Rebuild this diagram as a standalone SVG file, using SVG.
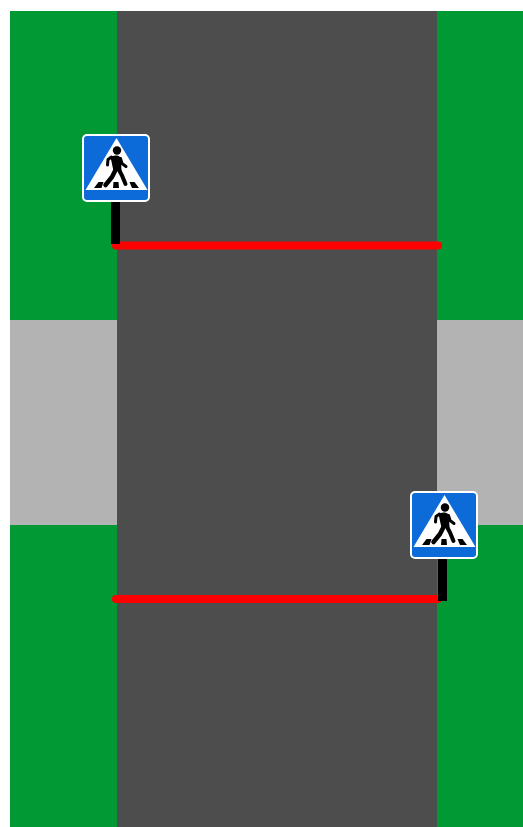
<svg xmlns="http://www.w3.org/2000/svg" width="523" height="827" viewBox="0 0 523 827">
<style>
.green{fill:#009933}.pave{fill:#b3b3b3}.road{fill:#4d4d4d}
.post{fill:#000}.stop{stroke:#f00;stroke-width:8;stroke-linecap:round;fill:none}
.plate{fill:#0c6bd8;stroke:#fff;stroke-width:2}
.tri{fill:#fff}.ink{fill:#000}.limb{fill:none;stroke:#000;stroke-linecap:round;stroke-linejoin:round}
</style>
<defs>
<g id="sign">
<rect class="plate" x="1" y="1" width="66" height="66" rx="4"/>
<path class="tri" d="M34.500 4 L65.500 56 L3.500 56 Z"/>
<circle class="ink" cx="35" cy="16.500" r="4.200"/>
<path class="ink" d="M28.500 23 Q31 21 35 21.500 Q38.500 22 39 25 L39.500 37 L31.500 37 Z"/>
<path class="limb" stroke-width="3" d="M29.500 23 L26 25.500 L25.500 31"/>
<path class="limb" stroke-width="3" d="M38.500 24.500 L40 29.500 L44 32.500"/>
<path class="limb" stroke-width="4.500" d="M33.500 36 L30 43 L23.500 51"/>
<path class="limb" stroke-width="4" d="M37 36 L40 41.500 L43.500 50"/>
<path class="ink" d="M12 54 L16.500 48 L21.500 48 L19.500 54 Z M31.500 48 L36.500 48 L37 54 L31 54 Z M47.500 48 L52.500 48 L57 54 L50 54 Z"/>
</g>
</defs>
<rect width="523" height="827" fill="#fff"/>
<g id="ground">
<rect class="green" x="10" y="11" width="107" height="816"/>
<rect class="green" x="437" y="11" width="86" height="816"/>
<rect class="pave" x="10" y="320" width="107" height="205"/>
<rect class="pave" x="437" y="320" width="86" height="205"/>
<rect class="road" x="117" y="11" width="320" height="816"/>
</g>
<g id="connectors">
<path class="stop" d="M116 245.500 H438"/>
<path class="stop" d="M116 599 H438"/>
</g>
<g id="sign-top">
<rect class="post" x="111" y="200" width="9" height="44"/>
<use href="#sign" x="82" y="134"/>
</g>
<g id="sign-bottom">
<rect class="post" x="438" y="557" width="9" height="44"/>
<use href="#sign" x="410" y="491"/>
</g>
</svg>
